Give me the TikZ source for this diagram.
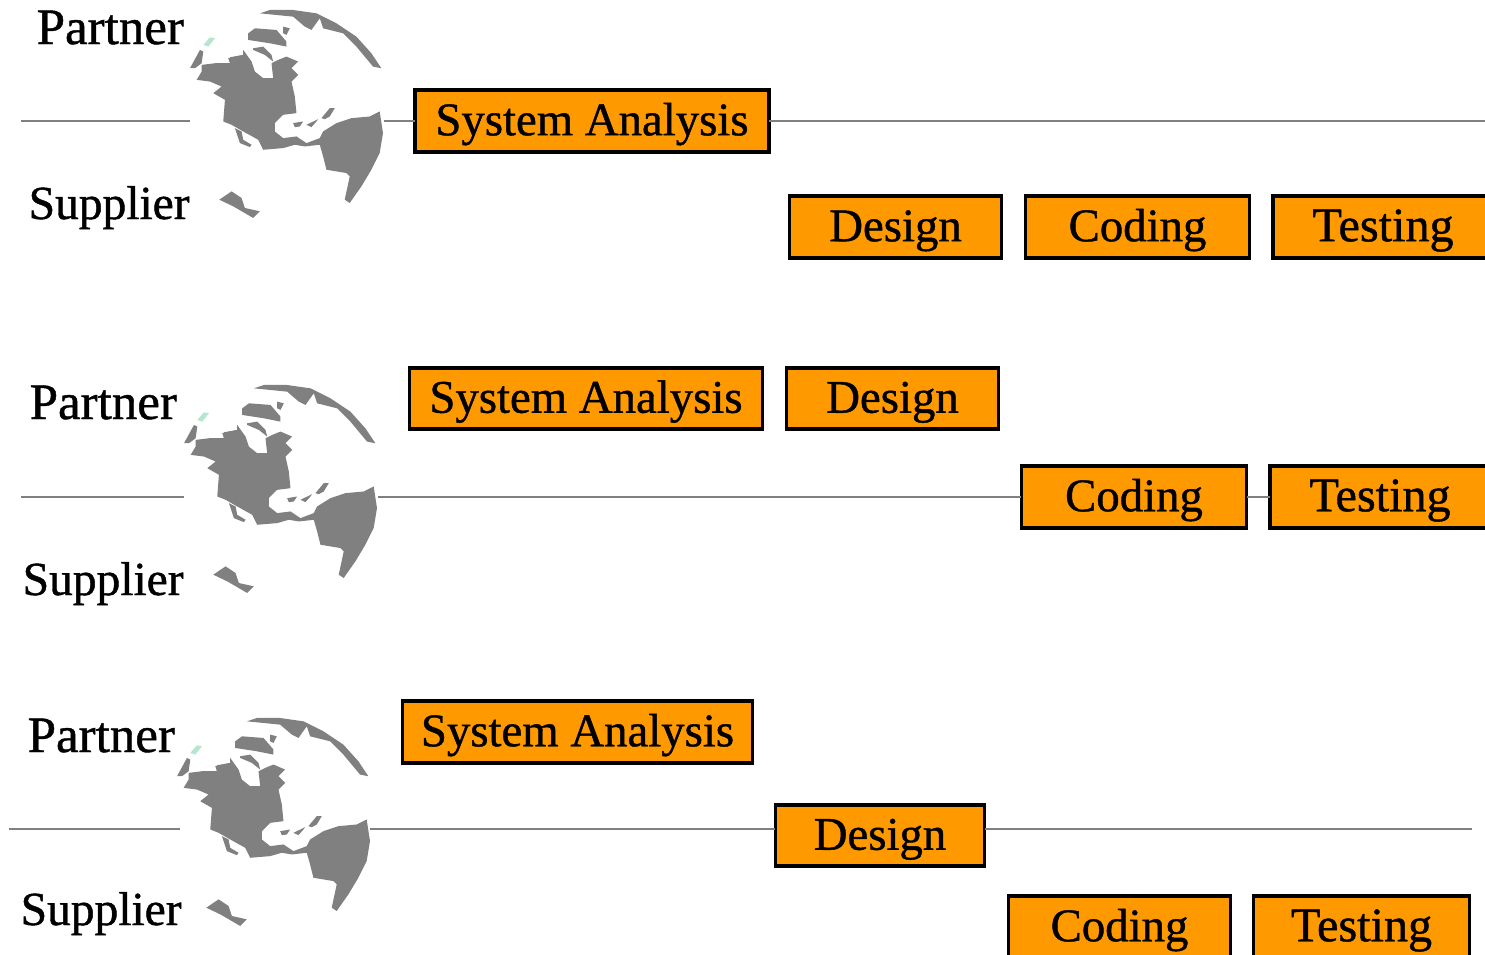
\documentclass[tikz,border=0pt]{standalone}
\usepackage{fontspec}
\setmainfont{Liberation Serif}
\newfontfamily\heavyfont[FakeBold=0.9]{Liberation Serif}
\usepackage{xcolor}
\usetikzlibrary{positioning}
\definecolor{phaseorange}{HTML}{FF9900}
\definecolor{landgray}{HTML}{808080}
\definecolor{icegreen}{HTML}{B5E6CF}
\tikzset{
    phase/.style={draw=black, fill=phaseorange, line width=1.05pt, outer sep=0pt, inner sep=0pt,
        minimum height=0.615cm, text height=11.1pt, text depth=3pt, font=\heavyfont\fontsize{13.3}{15}\selectfont},
    testingbox/.style={phase, font=\heavyfont\fontsize{13.7}{15}\selectfont},
    partnerlabel/.style={anchor=base west, inner sep=0pt, font=\heavyfont\fontsize{14.5}{16}\selectfont},
    supplierlabel/.style={anchor=base west, inner sep=0pt, font=\heavyfont\fontsize{13.5}{16}\selectfont},
    timeline/.style={draw=landgray, line width=0.75pt},
    land/.style={fill=landgray, draw=none},
}
% one globe, traced in thirds of a pixel
\newcommand{\earthmap}{
    \fill[land] (65,195) -- (105,190) -- (150,190) -- (150,172) -- (190,165) -- (190,150) -- (215,185) -- (225,215)
        -- (250,235) -- (280,235) -- (275,190) -- (295,180) -- (320,170) -- (355,185) -- (335,205) -- (355,225)
        -- (335,245) -- (345,290) -- (350,340) -- (310,345) -- (285,370) -- (285,395) -- (310,415) -- (350,410)
        -- (380,430) -- (420,415) -- (430,395) -- (470,370) -- (515,355) -- (570,350) -- (600,335) -- (610,400)
        -- (600,460) -- (575,510) -- (545,560) -- (510,610) -- (495,600) -- (510,530) -- (500,520) -- (440,510)
        -- (430,470) -- (420,435) -- (375,440) -- (345,435) -- (310,445) -- (250,450) -- (235,420) -- (190,395)
        -- (155,375) -- (130,365) -- (135,300) -- (100,280) -- (125,260) -- (90,245) -- (50,240) -- (65,215) -- cycle;
    \fill[land] (165,385) -- (185,395) -- (190,420) -- (215,435) -- (210,442) -- (180,430) -- cycle;
    \fill[land] (205,100) -- (225,85) -- (290,90) -- (320,125) -- (320,140) -- (270,130) -- (205,120) -- cycle;
    \fill[land] (240,40) -- (270,30) -- (340,30) -- (410,40) -- (470,70) -- (530,110) -- (575,160) -- (605,205)
        -- (580,200) -- (530,140) -- (490,100) -- (430,85) -- (420,55) -- (395,90) -- (375,80) -- (340,50) -- cycle;
    \fill[land] (310,80) -- (330,85) -- (320,105) -- (310,100) -- cycle;
    \fill[land] (30,205) -- (60,150) -- (70,155) -- (65,190) -- (45,205) -- cycle;
    \fill[icegreen] (70,135) -- (90,112) -- (105,115) -- (85,140) -- cycle;
    \fill[land] (118,600) -- (155,575) -- (185,595) -- (195,625) -- (240,635) -- (220,655) -- (160,620) -- cycle;
    \fill[land] (340,370) -- (370,365) -- (360,380) -- (345,382) -- cycle;
    \fill[land] (380,375) -- (415,358) -- (410,365) -- (395,382) -- cycle;
    \fill[land] (425,355) -- (450,325) -- (465,325) -- (450,350) -- (435,358) -- cycle;
    \fill[land] (220,145) -- (250,140) -- (275,165) -- (280,185) -- (255,165) -- (220,150) -- cycle;
    \fill[land] (145,175) -- (190,165) -- (200,180) -- (150,190) -- cycle;
}
\begin{document}
\begin{tikzpicture}[x=0.01cm, y=-0.01cm]
    \useasboundingbox (0,0) rectangle (1485,954);

    % Globes
    \foreach \gx/\gy in {180/0, 174/375, 167/708} {
        \begin{scope}[shift={(\gx,\gy)}, x=0.00333cm, y=-0.00333cm]
            \earthmap
        \end{scope}
    }

    % Analysis on top
    \node[partnerlabel] (partnerA) at (36,44) {Partner};
    \node[supplierlabel] (supplierA) at (28,219) {Supplier};
    \node[phase, minimum width=3.54cm] (analysisA) at (592,121) {System Analysis};
    \node[phase, minimum width=2.12cm] (designA) at (895.5,227) {Design};
    \node[phase, minimum width=2.24cm] (codingA) at (1137.5,227) {Coding};
    \node[testingbox, minimum width=2.2cm] (testingA) at (1383,227) {Testing};
    \coordinate (startA) at (21,121);
    \coordinate (globeAw) at (190,121);
    \coordinate (globeAe) at (384,121);
    \coordinate (endA) at (1485,121);
    \draw[timeline] (startA) -- (globeAw);
    \draw[timeline] (globeAe) -- (analysisA);
    \draw[timeline] (analysisA) -- (endA);

    % Analysis and design on top
    \node[partnerlabel] (partnerB) at (29,419) {Partner};
    \node[supplierlabel] (supplierB) at (22,595) {Supplier};
    \node[phase, minimum width=3.53cm] (analysisB) at (586,398.5) {System Analysis};
    \node[phase, minimum width=2.12cm] (designB) at (892.5,398.5) {Design};
    \node[phase, minimum width=2.25cm] (codingB) at (1134,497) {Coding};
    \node[testingbox, minimum width=2.2cm] (testingB) at (1380,497) {Testing};
    \coordinate (startB) at (21,497);
    \coordinate (globeBw) at (184,497);
    \coordinate (globeBe) at (378,497);
    \draw[timeline] (startB) -- (globeBw);
    \draw[timeline] (globeBe) -- (codingB);
    \draw[timeline] (codingB) -- (testingB);

    % Only analysis on top
    \node[partnerlabel] (partnerC) at (27,752) {Partner};
    \node[supplierlabel] (supplierC) at (20,925) {Supplier};
    \node[phase, minimum width=3.5cm] (analysisC) at (577.5,732) {System Analysis};
    \node[phase, minimum width=2.09cm] (designC) at (880,835.5) {Design};
    \node[phase, minimum width=2.22cm] (codingC) at (1119.5,927) {Coding};
    \node[testingbox, minimum width=2.16cm] (testingC) at (1361.5,927) {Testing};
    \coordinate (startC) at (9,829);
    \coordinate (globeCw) at (180,829);
    \coordinate (globeCe) at (370,829);
    \coordinate (endC) at (1472,829);
    \draw[timeline] (startC) -- (globeCw);
    \draw[timeline] (globeCe) -- (globeCe -| designC.west);
    \draw[timeline] (endC -| designC.east) -- (endC);
\end{tikzpicture}
\end{document}
